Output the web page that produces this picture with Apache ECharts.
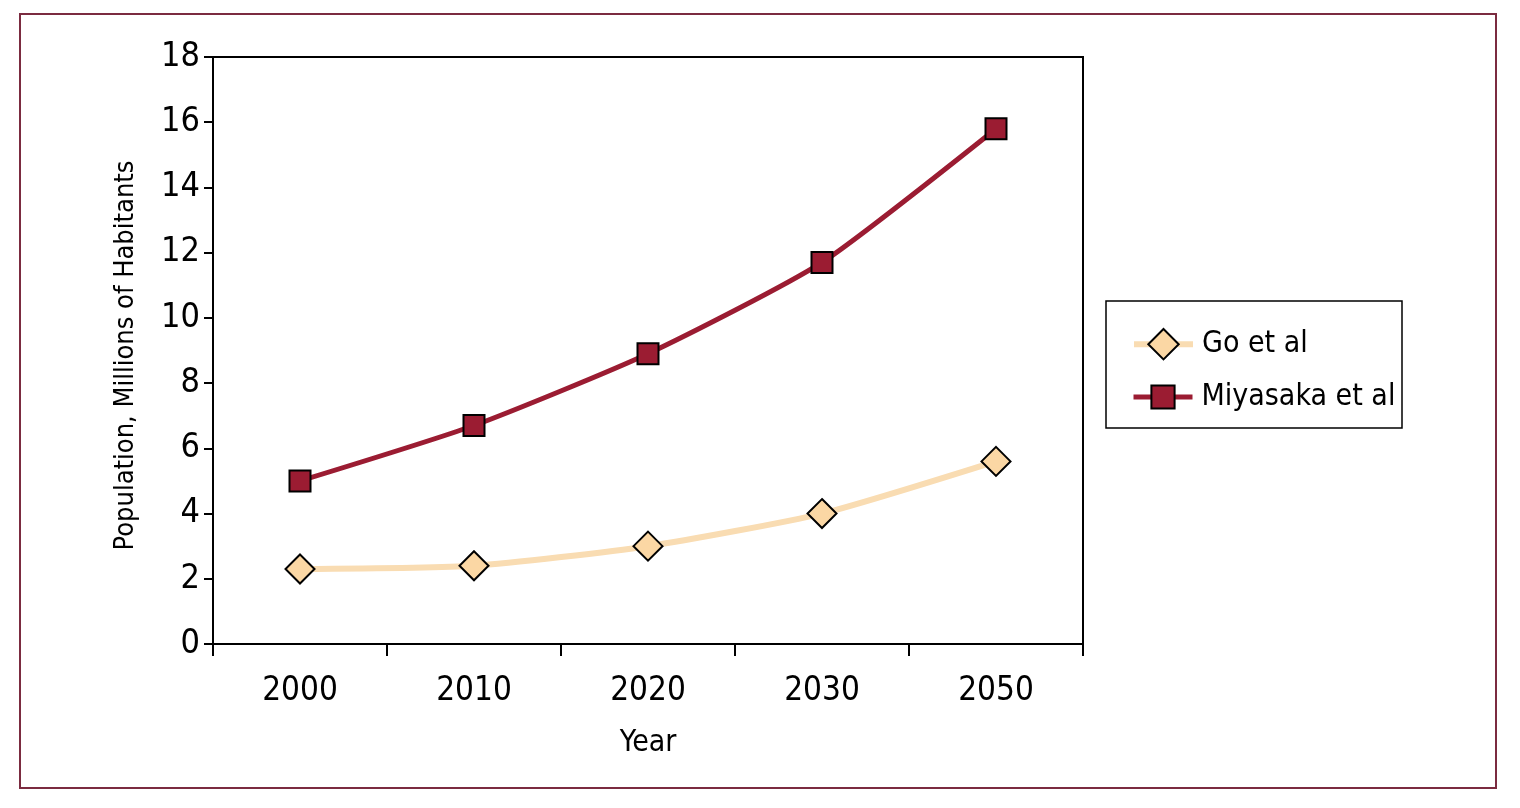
<!DOCTYPE html>
<html><head><meta charset="utf-8">
<script src="https://cdn.jsdelivr.net/npm/echarts@6/dist/echarts.min.js"></script>
<style>html,body{margin:0;padding:0;background:#fff}#c{width:1520px;height:808px}</style>
</head><body><div id="c"></div>
<script>
const years = ['2000', '2010', '2020', '2030', '2050'];
const goEtAl = [2.3, 2.4, 3.0, 4.0, 5.6];
const miyasakaEtAl = [5.0, 6.7, 8.9, 11.7, 15.8];
const yTicks = { min: 0, max: 18, interval: 2 };

const FONT = "'Liberation Sans Narrow', 'DejaVu Sans Condensed', sans-serif";
const legendText = { fontFamily: FONT, fontSize: 30, color: '#000', padding: [0, 0, 0, 4] };
const chart = echarts.init(document.getElementById('c'));
chart.setOption({
  backgroundColor: '#fff',
  animation: false,
  graphic: [
    { type: 'rect', shape: { x: 20, y: 14, width: 1476, height: 774 }, style: { fill: 'none', stroke: '#7b2b40', lineWidth: 2 } },
    { type: 'rect', shape: { x: 1106, y: 301, width: 296, height: 127 }, style: { fill: '#fff', stroke: '#000', lineWidth: 1.5 }, z: 0 }
  ],
  grid: { left: 213, right: 437, top: 57, bottom: 164, show: true, borderColor: '#000', borderWidth: 2, containLabel: false },
  legend: [
    {
      data: ['Go et al'], orient: 'vertical', left: 1126, top: 323, itemWidth: 59, itemHeight: 38,
      lineStyle: { width: 6 }, textStyle: legendText, z: 10
    },
    {
      data: ['Miyasaka et al'], orient: 'vertical', left: 1126, top: 377, itemWidth: 59, itemHeight: 29,
      lineStyle: { width: 5 }, textStyle: legendText, z: 10
    }
  ],
  xAxis: {
    type: 'category', data: years, boundaryGap: true,
    name: 'Year', nameLocation: 'middle', nameGap: 84,
    nameTextStyle: { fontFamily: FONT, fontSize: 30, color: '#000' },
    axisLine: { lineStyle: { color: '#000', width: 2 } },
    axisTick: { show: true, length: 12, lineStyle: { color: '#000', width: 2 } },
    axisLabel: { fontFamily: FONT, fontSize: 33, color: '#000', margin: 31 },
    splitLine: { show: false }
  },
  yAxis: {
    type: 'value', min: yTicks.min, max: yTicks.max, interval: yTicks.interval,
    name: 'Population, Millions of Habitants', nameLocation: 'middle', nameGap: 74,
    nameTextStyle: { fontFamily: FONT, fontSize: 27, color: '#000', padding: [0, 0, 0, -10] },
    axisLine: { show: true, lineStyle: { color: '#000', width: 2 } },
    axisTick: { show: true, length: 9, lineStyle: { color: '#000', width: 2 } },
    axisLabel: { fontFamily: FONT, fontSize: 34, color: '#000', margin: 13 },
    splitLine: { show: false }
  },
  series: [
    {
      name: 'Go et al', type: 'line', data: goEtAl, smooth: 0.2,
      symbol: 'diamond', symbolSize: 29,
      lineStyle: { color: '#f9dcb2', width: 6 },
      itemStyle: { color: '#fbd7a4', borderColor: '#000', borderWidth: 2 }
    },
    {
      name: 'Miyasaka et al', type: 'line', data: miyasakaEtAl, smooth: 0.2,
      symbol: 'rect', symbolSize: 21,
      lineStyle: { color: '#9b1c32', width: 5 },
      itemStyle: { color: '#9b1c32', borderColor: '#000', borderWidth: 2 }
    }
  ]
});
</script></body></html>
